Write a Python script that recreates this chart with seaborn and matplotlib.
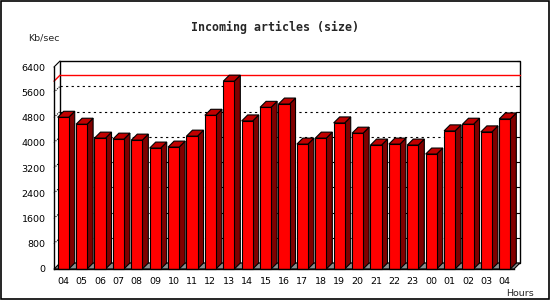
import matplotlib
matplotlib.use("Agg")
import matplotlib.pyplot as plt
import seaborn as sns
import pandas as pd
import numpy as np
from matplotlib.patches import Polygon, Rectangle

hours = ["04", "05", "06", "07", "08", "09", "10", "11", "12", "13", "14", "15", "16",
         "17", "18", "19", "20", "21", "22", "23", "00", "01", "02", "03", "04"]
values = [4807, 4587, 4146, 4114, 4083, 3831, 3862, 4209, 4870, 5950, 4691, 5122, 5226,
          3957, 4146, 4628, 4303, 3926, 3957, 3926, 3642, 4376, 4587, 4344, 4754]
yticks = [0, 800, 1600, 2400, 3200, 4000, 4800, 5600, 6400]
title = "Incoming articles (size)"
ylabel = "Kb/sec"
xlabel = "Hours"

sns.set_style("white")
plt.rcParams["font.family"] = ["DejaVu Sans"]

W, H = 550, 300
fig = plt.figure(figsize=(5.5, 3.0), dpi=100)
fig.patch.set_facecolor("white")

# front plotting region in pixels
L, R, T, B = 54, 514, 67, 269
ax = fig.add_axes([L / W, (H - B) / H, (R - L) / W, (B - T) / H])
ax.set_facecolor("none")

n = len(values)
df = pd.DataFrame({"slot": list(range(n)), "value": values})
sns.barplot(data=df, x="slot", y="value", color="#ff0000", saturation=1,
            width=0.6, edgecolor="black", linewidth=0.8, ax=ax, zorder=5)

ax.set_xlim(-0.5, n - 0.5)
ax.set_ylim(0, 6400)

# pixel offset for depth -> data units
DPX = 6.0
dx = DPX * n / (R - L)
dy = DPX * 6400 / (B - T)

x0, x1 = -0.5, n - 0.5
ymax = 6400

# floor
floor = Polygon([(x0, 0), (x1, 0), (x1 + dx, dy), (x0 + dx, dy)], closed=True,
                facecolor="#8c8c8c", edgecolor="black", linewidth=0.8,
                clip_on=False, zorder=2)
ax.add_patch(floor)

# back wall
wall = Rectangle((x0 + dx, dy), x1 - x0, ymax, facecolor="white", edgecolor="black",
                 linewidth=1.0, clip_on=False, zorder=1)
ax.add_patch(wall)

# gridlines on back wall + left wall diagonals
for v in yticks[1:-1]:
    ax.plot([x0 + dx, x1 + dx], [v + dy, v + dy], color="black", linestyle=(0, (2, 3)),
            linewidth=0.8, clip_on=False, zorder=1.5)
    ax.plot([x0, x0 + dx], [v, v + dy], color="black", linestyle=(0, (1, 1)),
            linewidth=0.8, clip_on=False, zorder=1.5)
for v in yticks:
    # inward ticks on back wall right edge
    ax.plot([x1 + dx - 0.17, x1 + dx], [v + dy, v + dy], color="black", linewidth=0.8,
            clip_on=False, zorder=1.5)

# max line
vmax = max(values)
ax.plot([x0 + dx, x1 + dx], [vmax + dy, vmax + dy], color="#ff0000", linewidth=1.0,
        clip_on=False, zorder=1.6)
ax.plot([x0, x0 + dx], [vmax, vmax + dy], color="#ff0000", linewidth=1.0,
        clip_on=False, zorder=1.6)
# top-left diagonal
ax.plot([x0, x0 + dx], [ymax, ymax + dy], color="black", linewidth=0.8,
        clip_on=False, zorder=1.6)

# 3D side and top faces of bars
for p in ax.patches:
    if not isinstance(p, Rectangle) or p is wall:
        continue
    if p.get_facecolor()[:3] != (1.0, 0.0, 0.0):
        continue
    bx = p.get_x()
    bw = p.get_width()
    bh = p.get_height()
    side = Polygon([(bx + bw, 0), (bx + bw, bh), (bx + bw + dx, bh + dy), (bx + bw + dx, dy)],
                   closed=True, facecolor="#800000", edgecolor="black", linewidth=0.8,
                   clip_on=False, zorder=4)
    top = Polygon([(bx, bh), (bx + bw, bh), (bx + bw + dx, bh + dy), (bx + dx, bh + dy)],
                  closed=True, facecolor="#c00000", edgecolor="black", linewidth=0.8,
                  clip_on=False, zorder=4)
    ax.add_patch(side)
    ax.add_patch(top)
    p.set_clip_on(False)

# axes styling
for s in ["top", "right"]:
    ax.spines[s].set_visible(False)
for s in ["left", "bottom"]:
    ax.spines[s].set_color("black")
    ax.spines[s].set_linewidth(1.0)
    ax.spines[s].set_zorder(6)

ax.set_yticks(yticks)
ax.set_yticklabels([str(v) for v in yticks], fontsize=6.8)
ax.tick_params(axis="y", direction="out", length=4, width=0.8, pad=2, colors="black")

ax.set_xticks(range(n))
ax.set_xticklabels(hours, fontsize=6.8)
ax.set_xticks(np.arange(-0.5, n, 1.0), minor=True)
ax.tick_params(axis="x", which="major", length=0, pad=6, colors="black")
ax.tick_params(axis="x", which="minor", direction="out", length=4, width=0.8, colors="black")
ax.set_xlabel("")
ax.set_ylabel("")

fig.text(275 / W, 1 - 27 / H, title, ha="center", va="center", fontsize=8.4,
         fontweight="bold", family="DejaVu Sans Mono")
fig.text(28 / W, 1 - 38 / H, ylabel, ha="left", va="center", fontsize=6.8)
fig.text(534 / W, 1 - 293 / H, xlabel, ha="right", va="center", fontsize=6.8)

# figure border
fig.add_artist(Rectangle((0.001, 0.002), 0.997, 0.995, transform=fig.transFigure,
                         fill=False, edgecolor="black", linewidth=1.2))

fig.savefig("out.png", dpi=100, facecolor="white")
